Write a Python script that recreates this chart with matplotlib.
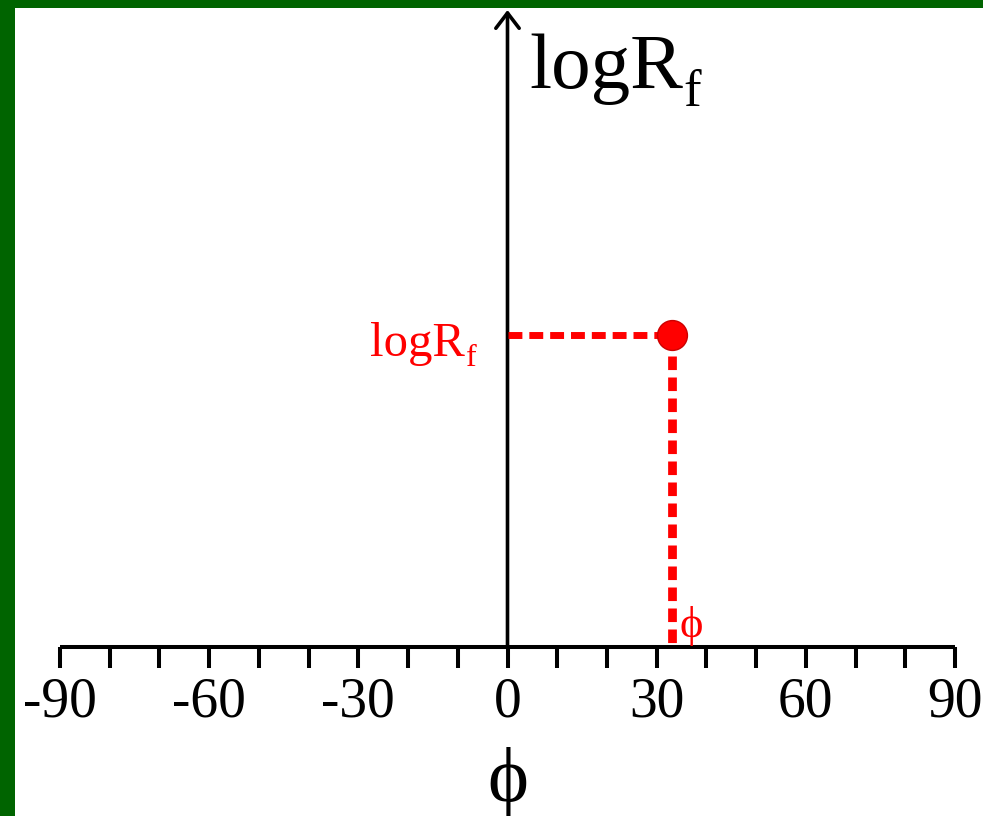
import matplotlib.pyplot as plt
from matplotlib.ticker import FixedLocator

# -----------------------------
# data
# -----------------------------
tick_positions = list(range(-90, 91, 10))
tick_labels = [str(t) if t % 30 == 0 else "" for t in tick_positions]
phi_value = 33.1
logrf_value = 0.49

plt.rcParams["font.family"] = ["Liberation Serif", "DejaVu Serif"]

RED = "#ff0000"
W, H = 983, 816
fig = plt.figure(figsize=(W / 100, H / 100), dpi=100, facecolor="#006400")

# white panel inside the green frame
panel = fig.add_axes([15 / W, 0, 1 - 15 / W, 1 - 8 / H])
panel.set_facecolor("white")
panel.set_xticks([])
panel.set_yticks([])
for s in panel.spines.values():
    s.set_visible(False)

# axes: x from -90..90 spans pixels 60..955, y=0 at pixel 647, y=1 at pixel 10
ax = fig.add_axes([60 / W, (H - 647) / H, (955 - 60) / W, (647 - 10) / H])
ax.patch.set_alpha(0)
ax.set_xlim(-90, 90)
ax.set_ylim(0, 1)

for side in ["top", "right", "left"]:
    ax.spines[side].set_visible(False)
ax.spines["bottom"].set_linewidth(2.9)
ax.spines["bottom"].set_capstyle("butt")

ax.xaxis.set_major_locator(FixedLocator(tick_positions))
ax.set_xticklabels(tick_labels)
ax.tick_params(axis="x", direction="out", length=15, width=2.9, pad=6,
               labelsize=40, colors="black")
ax.set_yticks([])

# vertical axis with arrow
ax.annotate("", xy=(0, 1), xytext=(0, 0),
            arrowprops=dict(arrowstyle="->,head_length=0.55,head_width=0.42",
                            lw=2.6, color="black", mutation_scale=20,
                            shrinkA=0, shrinkB=0))

# dashed guide lines and the point
ax.plot([0, phi_value], [logrf_value, logrf_value], color=RED, lw=5,
        dashes=(2.0, 1.0), solid_capstyle="butt", zorder=3)
ax.plot([phi_value, phi_value], [logrf_value, 0], color=RED, lw=6.3,
        dashes=(1.55, 0.85), solid_capstyle="butt", zorder=3)
ax.plot([phi_value], [logrf_value], "o", color=RED, markersize=21.5,
        markeredgecolor="#cc0000", markeredgewidth=1, zorder=4)

# axis title logR_f at the top of the vertical axis
top_lbl = ax.annotate("logR", xy=(0, 1), xytext=(15.5, -56),
                      textcoords="offset points", fontsize=57,
                      color="black", ha="left", va="baseline")
ax.annotate("f", xy=(1, 0), xycoords=top_lbl, xytext=(0.5, -1),
            textcoords="offset points", fontsize=38, color="black",
            ha="left", va="baseline")

# red label for the value on the vertical axis
red_lbl = ax.annotate("logR", xy=(0, logrf_value), xytext=(-30.5, -15.5),
                      textcoords="offset points", fontsize=35, color=RED,
                      ha="right", va="baseline")
ax.annotate("f", xy=(1, 0), xycoords=red_lbl, xytext=(0.5, 0),
            textcoords="offset points", fontsize=23, color=RED,
            ha="left", va="baseline")

# red phi near the x axis
ax.annotate("ϕ", xy=(phi_value, 0), xytext=(5.5, 1),
            textcoords="offset points", fontsize=32, color=RED,
            ha="left", va="bottom")

ax.set_xlabel("ϕ", fontsize=56, labelpad=13)

fig.savefig("out.png", dpi=100, facecolor=fig.get_facecolor())
